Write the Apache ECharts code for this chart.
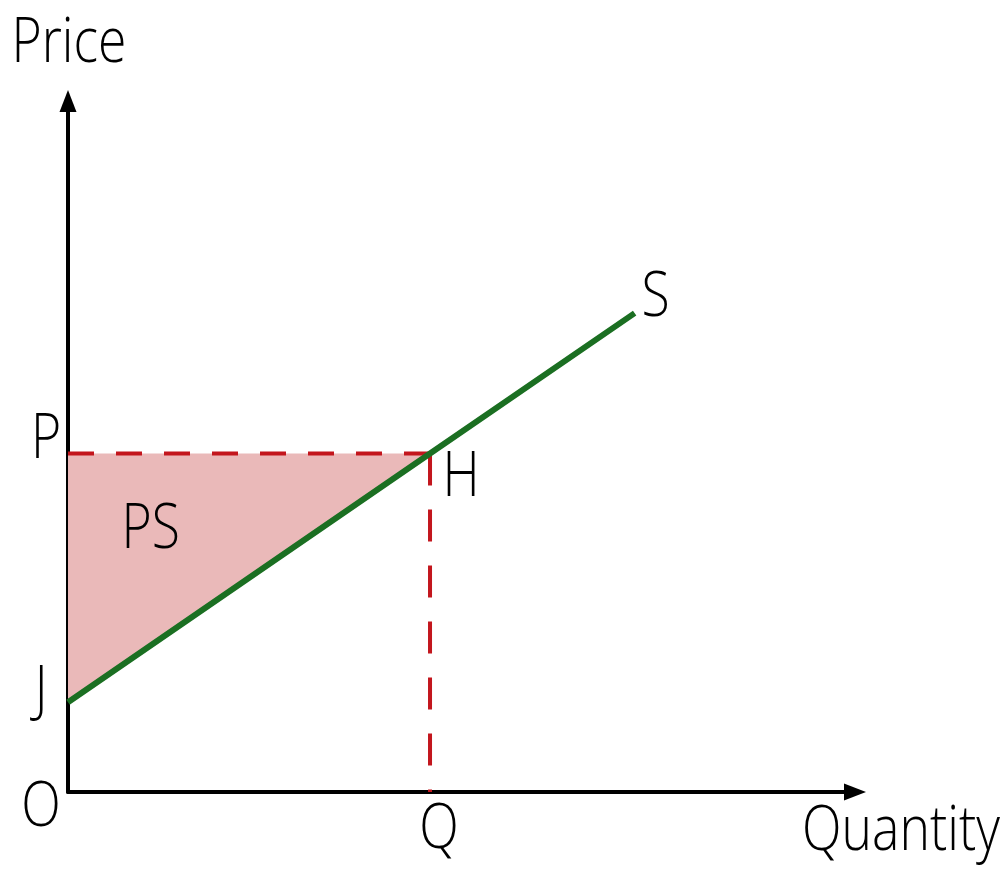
<!DOCTYPE html>
<html>
<head>
<meta charset="utf-8">
<title>Producer surplus</title>
<script src="https://cdn.jsdelivr.net/npm/echarts@6/dist/echarts.min.js"></script>
<style>
  html, body { margin: 0; padding: 0; background: #fff; }
  #chart { width: 1006px; height: 869px; }
</style>
</head>
<body>
<div id="chart"></div>
<script>
// supply curve S, from the price intercept J up past H
const supplyX = [0, 46, 72]
const supplyY = [13, 49, 69.3]
// market price P, quantity Q and intercept J
const priceP = 49
const quantityQ = 46
const interceptJ = 13
// point labels
const pointNames = ['O', 'P', 'J', 'H', 'Q', 'S']
const pointX = [0, 0, 0, 46, 46, 72]
const pointY = [0, 49, 13, 49, 0, 69.3]
const areaName = 'PS'
const xTitle = 'Quantity'
const yTitle = 'Price'

const FONT = '"Open Sans"'
const WEIGHT = 300
const TEXT_SIZE = 63
const SQUEEZE = 0.82

const chart = echarts.init(document.getElementById('chart'))

// pixel offsets of each label centre from its point
const labelOffsets = {
  O: [-27, 16],
  P: [-22, -13],
  J: [-27, -10],
  H: [31, 25],
  Q: [9, 38],
  S: [21, -15],
  PS: [-38, -6]
}

function textEl(str, x, y) {
  return {
    type: 'text',
    x: x,
    y: y,
    scaleX: SQUEEZE,
    style: {
      text: str,
      fontFamily: FONT,
      fontWeight: WEIGHT,
      fontSize: TEXT_SIZE,
      fill: '#000',
      align: 'center',
      verticalAlign: 'middle'
    }
  }
}

const axisStyle = {
  min: 0,
  max: 100,
  axisLine: {
    show: true,
    onZero: false,
    symbol: ['none', 'triangle'],
    symbolSize: [17, 22],
    lineStyle: { color: '#000', width: 4 }
  },
  axisTick: { show: false },
  axisLabel: { show: false },
  splitLine: { show: false }
}

chart.setOption({
  animation: false,
  grid: { left: 68, right: 151, top: 101, bottom: 77 },
  xAxis: Object.assign({ type: 'value' }, axisStyle),
  yAxis: Object.assign({ type: 'value' }, axisStyle),
  graphic: [
    textEl(yTitle, 69, 44),
    textEl(xTitle, 901, 832)
  ],
  series: [
    {
      // producer surplus triangle J-P-H
      type: 'custom',
      silent: true,
      z: 1,
      data: [[0, interceptJ]],
      renderItem(params, api) {
        const pts = [
          api.coord([0, interceptJ]),
          api.coord([0, priceP]),
          api.coord([quantityQ, priceP])
        ]
        return {
          type: 'polygon',
          shape: { points: pts },
          style: { fill: '#eab9b9' }
        }
      }
    },
    {
      // dashed price line P-H
      type: 'line',
      silent: true,
      z: 2,
      symbol: 'none',
      data: [[0, priceP], [quantityQ, priceP]],
      lineStyle: { color: '#c3161d', width: 4, type: [26, 22] }
    },
    {
      // dashed quantity line H-Q
      type: 'line',
      silent: true,
      z: 2,
      symbol: 'none',
      data: [[quantityQ, priceP], [quantityQ, 0]],
      lineStyle: { color: '#c3161d', width: 4, type: [32, 24] }
    },
    {
      // supply curve
      type: 'line',
      silent: true,
      z: 3,
      symbol: 'none',
      data: supplyX.map((x, i) => [x, supplyY[i]]),
      lineStyle: { color: '#1b6f22', width: 6, cap: 'butt' }
    },
    {
      // point labels
      type: 'custom',
      silent: true,
      z: 4,
      data: pointNames.map((n, i) => [pointX[i], pointY[i], i]),
      renderItem(params, api) {
        const name = pointNames[api.value(2)]
        const p = api.coord([api.value(0), api.value(1)])
        const off = labelOffsets[name]
        return textEl(name, p[0] + off[0], p[1] + off[1])
      }
    },
    {
      // PS label, placed from the triangle's centroid
      type: 'custom',
      silent: true,
      z: 4,
      data: [[quantityQ / 3, (interceptJ + 2 * priceP) / 3]],
      renderItem(params, api) {
        const p = api.coord([api.value(0), api.value(1)])
        const off = labelOffsets.PS
        return textEl(areaName, p[0] + off[0], p[1] + off[1])
      }
    }
  ]
})
</script>
</body>
</html>
